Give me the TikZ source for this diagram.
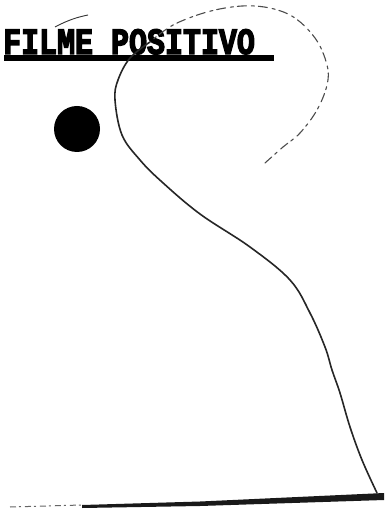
\documentclass[tikz,border=0pt]{standalone}
\usepackage{fontspec}
\newfontfamily\typefont[FakeBold=4]{Liberation Mono Bold}
\begin{document}
\begin{tikzpicture}[x=1pt,y=-1pt,
  ink/.style={line width=1.6pt,line cap=round,line join=round,black!85},
  faint/.style={line width=1.1pt,line cap=round,black!70,dash pattern=on 9pt off 4pt on 3pt off 5pt},
  title/.style={anchor=base west,inner sep=0pt,font=\typefont\fontsize{37}{37}\selectfont,xscale=0.81}]
\useasboundingbox (0,0) rectangle (385,518);
\fill[white] (0,0) rectangle (385,518);
% title
\node[title] (title) at (3,54) {FILME POSITIVO};
\fill[black] (4,55) rectangle (274,61);
\draw[line width=0.9pt,black!80] (55,27) .. controls (68,20) and (78,17) .. (88,15);
% dot
\fill[black] (77,129) circle[radius=23];
% dashed upper loop
\draw[faint] plot[smooth,tension=0.6] coordinates {(265,163) (283,147) (300,133) (317,110) (327,85) (327,65) (315,38) (290,15) (255,6) (215,10) (175,24) (150,42)};
% solid curve
\draw[ink] plot[smooth,tension=0.6] coordinates {(150,42) (130,58) (118,80) (115,100) (122,135) (140,160) (162,182) (200,214) (250,247) (290,280) (310,313) (325,347) (332,370) (340,393) (350,427) (362,460) (377,493)};
% bottom line
\draw[line width=1pt,black!60,dash pattern=on 6pt off 3pt on 2pt off 4pt] (10,507) -- (82,505);
\fill[black!90] (82,505) -- (200,501.5) -- (384,493) -- (384,500) -- (200,506) -- (82,508) -- cycle;
\end{tikzpicture}
\end{document}
